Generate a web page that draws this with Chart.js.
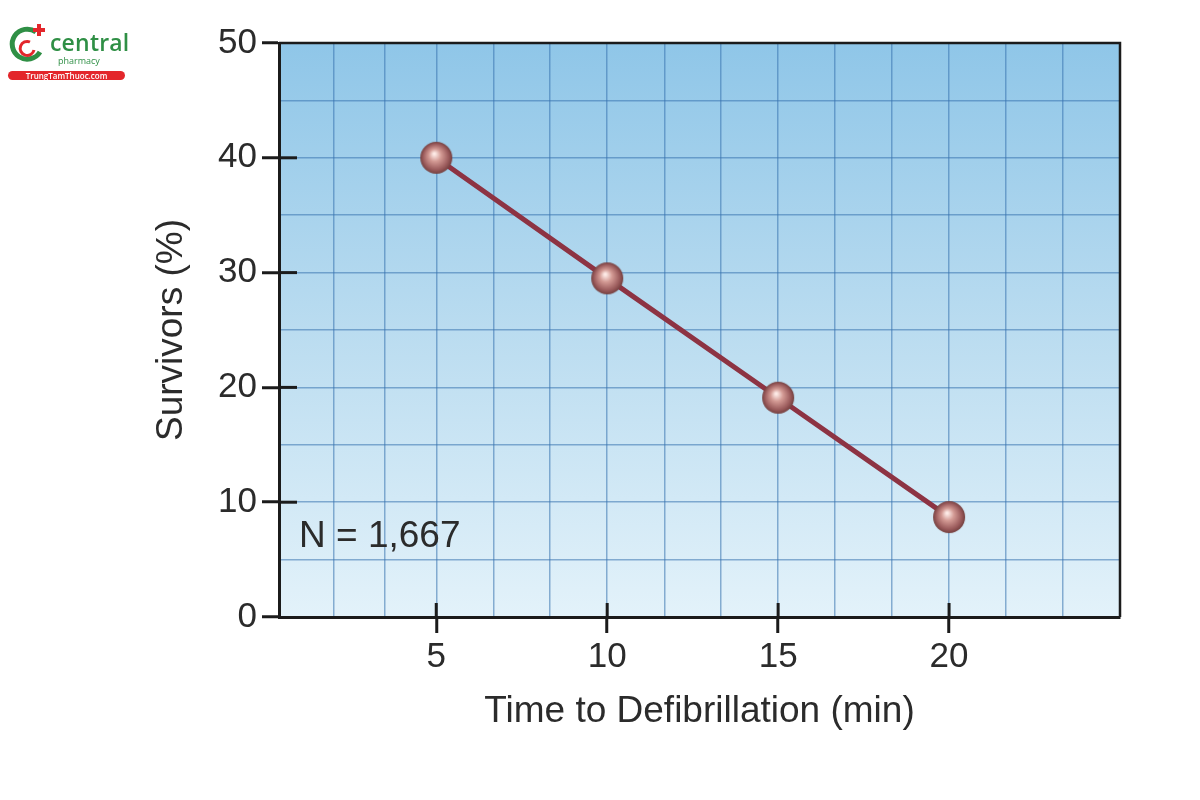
<!DOCTYPE html>
<html lang="en">
<head>
    <meta charset="UTF-8">
    <title>Survivors vs Time to Defibrillation</title>
    <script src="https://cdn.jsdelivr.net/npm/chart.js"></script>
    <style>
        body { margin: 0; background: #fff; }
        #wrap { position: relative; width: 1200px; height: 800px; }
        #logo { position: absolute; left: 6px; top: 22px; font-family: "Open Sans", "Liberation Sans", sans-serif; }
        #logo .name { position: absolute; left: 44px; top: 4px; color: #2f8f45; font-size: 23px; font-weight: 600; letter-spacing: 0.2px; }
        #logo .sub { position: absolute; left: 52px; top: 32px; color: #2f8f45; font-size: 9px; }
        #logo .pill { position: absolute; left: 2px; top: 49px; width: 117px; height: 9px; border-radius: 5px; background: #e3262b; color: #fff; font-size: 8px; line-height: 9px; text-align: center; font-weight: 600; }
    </style>
</head>
<body>
<div id="wrap">
    <canvas id="chart" width="1200" height="800"></canvas>
    <div id="logo">
        <svg width="44" height="44" style="position:absolute;left:0;top:0">
            <path d="M30 10 A15 15 0 1 0 34 30" fill="none" stroke="#2f8f45" stroke-width="5"/>
            <path d="M24 20 A7 7 0 1 0 28 28" fill="none" stroke="#e3262b" stroke-width="3"/>
            <rect x="31" y="2" width="4" height="12" fill="#e3262b"/>
            <rect x="27" y="6" width="12" height="4" fill="#e3262b"/>
        </svg>
        <span class="name">central</span>
        <span class="sub">pharmacy</span>
        <div class="pill">TrungTamThuoc.com</div>
    </div>
</div>

<script>
    // data
    const times = [5, 10, 15, 20];
    const survivors = [40, 29.5, 19.1, 8.7];
    const xLabels = [5, 10, 15, 20];
    const xGrid = [2, 3.5, 5, 6.67, 8.33, 10, 11.67, 13.33, 15, 16.67, 18.33, 20, 21.67, 23.33, 25];
    const yLabels = [0, 10, 20, 30, 40, 50];
    const note = 'N = 1,667';

    const FONT = '"Liberation Sans", Arial, sans-serif';
    const gridBlue = 'rgba(55, 115, 175, 0.55)';
    const textColor = '#2b2b2b';

    // shaded ball for the markers
    const ball = document.createElement('canvas');
    ball.width = 34; ball.height = 34;
    const bctx = ball.getContext('2d');
    const g = bctx.createRadialGradient(15, 13, 1, 17, 17, 16);
    g.addColorStop(0, '#fdeae6');
    g.addColorStop(0.35, '#d39a94');
    g.addColorStop(0.8, '#99595a');
    g.addColorStop(1, '#74403f');
    bctx.fillStyle = g;
    bctx.beginPath();
    bctx.arc(17, 17, 16, 0, Math.PI * 2);
    bctx.fill();

    const framePlugin = {
        id: 'frame',
        beforeDraw(chart) {
            const { ctx, chartArea: a } = chart;
            const grad = ctx.createLinearGradient(0, a.top, 0, a.bottom);
            grad.addColorStop(0, '#8fc6e8');
            grad.addColorStop(0.5, '#badcf0');
            grad.addColorStop(1, '#e3f2fa');
            ctx.save();
            ctx.fillStyle = grad;
            ctx.fillRect(a.left, a.top, a.right - a.left, a.bottom - a.top);
            ctx.restore();
        },
        afterDraw(chart) {
            const { ctx, chartArea: a, scales } = chart;
            ctx.save();
            ctx.strokeStyle = '#1b1b1b';
            ctx.lineWidth = 2.5;
            ctx.beginPath();
            ctx.moveTo(a.left, a.top);
            ctx.lineTo(a.right, a.top);
            ctx.lineTo(a.right, a.bottom);
            ctx.stroke();
            // inner part of the tick marks
            ctx.lineWidth = 3;
            yLabels.forEach(v => {
                if (v === 0 || v === 50) return;
                const y = scales.y.getPixelForValue(v);
                ctx.beginPath();
                ctx.moveTo(a.left, y);
                ctx.lineTo(a.left + 18, y);
                ctx.stroke();
            });
            xLabels.forEach(v => {
                const x = scales.x.getPixelForValue(v);
                ctx.beginPath();
                ctx.moveTo(x, a.bottom);
                ctx.lineTo(x, a.bottom - 14);
                ctx.stroke();
            });
            ctx.fillStyle = textColor;
            ctx.font = '37px ' + FONT;
            ctx.textBaseline = 'middle';
            ctx.fillText(note, a.left + 20, scales.y.getPixelForValue(7));
            ctx.restore();
        }
    };

    new Chart(document.getElementById('chart'), {
        type: 'line',
        data: {
            datasets: [{
                data: times.map((t, i) => ({ x: t, y: survivors[i] })),
                borderColor: '#8d3343',
                borderWidth: 5,
                pointStyle: ball,
                pointRadius: 17,
                pointHoverRadius: 17,
                tension: 0
            }]
        },
        options: {
            responsive: false,
            animation: false,
            events: [],
            layout: { padding: { top: 43, right: 80, left: 0, bottom: 66 } },
            plugins: { legend: { display: false }, tooltip: { enabled: false } },
            scales: {
                x: {
                    type: 'linear',
                    min: 0.4,
                    max: 25,
                    afterBuildTicks: s => { s.ticks = xGrid.map(v => ({ value: v })); },
                    afterFit: s => { s.height = 117; },
                    ticks: {
                        autoSkip: false,
                        maxRotation: 0,
                        padding: 3,
                        color: textColor,
                        font: { family: FONT, size: 35 },
                        callback: v => xLabels.includes(v) ? String(v) : ''
                    },
                    grid: {
                        color: gridBlue,
                        lineWidth: 1.5,
                        tickLength: 16,
                        tickWidth: 3,
                        tickColor: c => xLabels.includes(c.tick && c.tick.value) ? '#1b1b1b' : 'rgba(0,0,0,0)'
                    },
                    border: { color: '#1b1b1b', width: 3 },
                    title: {
                        display: true,
                        text: 'Time to Defibrillation (min)',
                        color: textColor,
                        font: { family: FONT, size: 37 },
                        padding: { top: 10, bottom: 0 }
                    }
                },
                y: {
                    min: 0,
                    max: 50,
                    afterFit: s => { s.width = 279; },
                    ticks: {
                        stepSize: 5,
                        padding: 5,
                        color: textColor,
                        font: { family: FONT, size: 35 },
                        callback: v => yLabels.includes(v) ? String(v) : ''
                    },
                    grid: {
                        color: gridBlue,
                        lineWidth: 1.5,
                        tickLength: 17,
                        tickWidth: 3,
                        tickColor: c => yLabels.includes(c.tick && c.tick.value) ? '#1b1b1b' : 'rgba(0,0,0,0)'
                    },
                    border: { color: '#1b1b1b', width: 3 },
                    title: {
                        display: true,
                        text: 'Survivors (%)',
                        color: textColor,
                        font: { family: FONT, size: 37 },
                        padding: { top: 150 }
                    }
                }
            }
        },
        plugins: [framePlugin]
    });
</script>
</body>
</html>
